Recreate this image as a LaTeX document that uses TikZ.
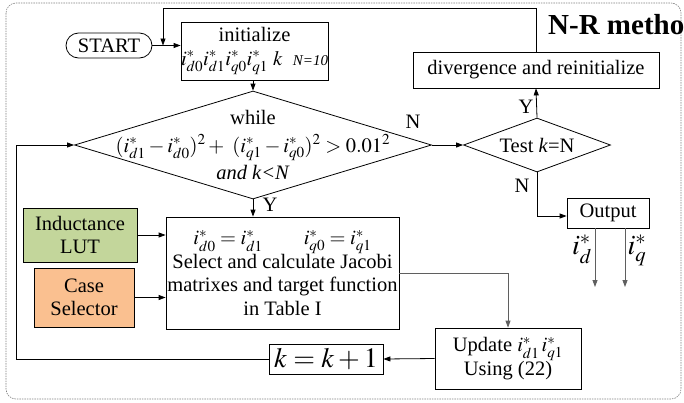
\documentclass[tikz,border=0pt]{standalone}
\usepackage{mathptmx}
\usepackage{fontspec}
\setmainfont{Liberation Serif}
\usetikzlibrary{arrows.meta,shapes.geometric}
\definecolor{lutgreen}{RGB}{195,214,155}
\definecolor{caseorange}{RGB}{250,192,144}
\definecolor{linegray}{RGB}{95,95,95}

\begin{document}
\begin{tikzpicture}[x=1pt,y=-1pt,
  font=\fontsize{20.5}{23.5}\selectfont,
  box/.style={draw,line width=0.8pt,inner sep=0pt,align=center},
  cbox/.style={diamond,draw,line width=0.8pt,inner sep=0pt},
  arr/.style={line width=0.8pt,-{Triangle[length=7pt,width=5pt]}},
  yn/.style={inner sep=0pt}]
  \useasboundingbox (0,0) rectangle (684,402);
  \draw[gray,line width=0.6pt,dash pattern=on 1.5pt off 1pt,rounded corners=10pt] (6,3) rectangle (681,399);

  % main flow
  \node[box,rounded corners=12.5pt,minimum width=86pt,minimum height=25pt] (start) at (109,45.5) {START};
  \node[box,minimum width=145pt,minimum height=58pt] (init) at (254.5,51)
    {initialize\\$i^*_{d0}i^*_{d1}i^*_{q0}i^*_{q1}\ k$\ \ {\fontsize{15}{15}\selectfont\itshape N=10}};
  \node[cbox,minimum width=357pt,minimum height=108pt] (cond) at (253,145) {};
  \node[align=center,font=\fontsize{20.5}{27.5}\selectfont] (condtxt) at (cond)
    {while\\$(i^*_{d1}-i^*_{d0})^2+\ (i^*_{q1}-i^*_{q0})^2>0.01^2$\\\textit{and k<N}};
  \node[box,minimum width=233pt,minimum height=112pt] (main) at (282.5,273)
    {$i^*_{d0}=i^*_{d1}$\qquad$i^*_{q0}=i^*_{q1}$\\Select and calculate Jacobi\\matrixes and target function\\in Table I};
  \node[box,minimum width=146pt,minimum height=61pt] (upd) at (508,358.5) {Update $i^*_{d1}\,i^*_{q1}$\\Using (22)};
  \node[box,minimum width=114pt,minimum height=30pt,font=\fontsize{28}{28}\selectfont] (kbox) at (326,359) {$k=k+1$};

  % inputs
  \node[box,fill=lutgreen,minimum width=114pt,minimum height=54pt] (lut) at (80,235) {Inductance\\LUT};
  \node[box,fill=caseorange,minimum width=100pt,minimum height=59pt] (case) at (84,297.5) {Case\\Selector};

  % right branch
  \node[cbox,aspect=2.7,minimum width=147pt,minimum height=54pt] (test) at (537,145) {Test \textit{k}=N};
  \node[box,minimum width=246pt,minimum height=36pt] (div) at (536,70) {divergence and reinitialize};
  \node[box,minimum width=82pt,minimum height=30pt] (out) at (608,213) {Output};
  \node[anchor=west,inner sep=0pt,font=\fontsize{29}{29}\selectfont\bfseries] (nrm) at (548,25) {N-R method};

  \coordinate (top) at (163,8);
  \coordinate (left) at (16,145);
  \coordinate (idend) at (595,287);
  \coordinate (iqend) at (625,287);

  % connectors
  \draw[arr] (start.east) -- (start.east -| init.west);
  \draw[arr] (div.north) |- (top) -- (top |- start.east);
  \draw[arr] (cond.north |- init.south) -- (cond.north);
  \draw[arr] (cond.east) -- (test.west);
  \draw[arr] (test.north) -- (div.south);
  \draw[arr] (test.south) |- ([yshift=-3pt]out.west);
  \draw[arr] (cond.south) -- (cond.south |- main.north);
  \draw[arr] (lut.east) -- (lut.east -| main.west);
  \draw[arr] (case.east) -- (case.east -| main.west);
  \draw[arr,linegray] (main.east) -| (upd.north);
  \draw[arr] (upd.west) -- (kbox.east);
  \draw[arr] (kbox.west) -| (left) -- (cond.west);
  \draw[arr,linegray] (out.south -| idend) -- (idend);
  \draw[arr,linegray] (out.south -| iqend) -- (iqend);

  % labels
  \node[yn] (ncond) at (413,122) {N};
  \node[yn] (ytest) at (526,107) {Y};
  \node[yn] (ntest) at (522,186) {N};
  \node[yn] (ycond) at (270,205) {Y};
  \node[font=\fontsize{28}{28}\selectfont] (idlbl) at (582,249) {$i^*_d$};
  \node[font=\fontsize{28}{28}\selectfont] (iqlbl) at (637,250) {$i^*_q$};
\end{tikzpicture}
\end{document}
